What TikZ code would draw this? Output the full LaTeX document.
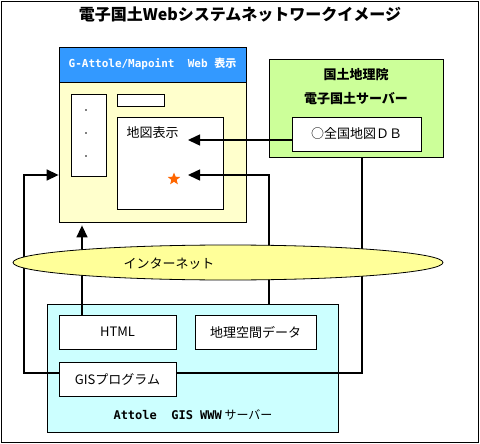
\documentclass[tikz,border=0pt]{standalone}
\usepackage{fontspec}
\setmainfont{Noto Sans CJK JP}
\setmonofont{DejaVu Sans Mono}
\newfontfamily\jpfont{Noto Sans CJK JP}
\usepackage{tikz}
\usetikzlibrary{arrows.meta,shapes.geometric}
\definecolor{headerblue}{RGB}{51,153,255}
\definecolor{windowcream}{RGB}{255,255,204}
\definecolor{gsigreen}{RGB}{204,255,153}
\definecolor{servercyan}{RGB}{204,255,255}
\definecolor{netyellow}{RGB}{255,255,153}
\definecolor{starorange}{RGB}{255,102,0}

\begin{document}
\begin{tikzpicture}[
    x=1pt, y=-1pt,
    >={Triangle[length=12pt, width=11pt]},
    panel/.style={draw, line width=0.8pt, fill=#1, inner sep=0pt},
    itembox/.style={draw, line width=0.8pt, fill=white, inner sep=0pt,
        minimum height=34pt, font=\fontsize{13}{15}\selectfont},
    hdrlbl/.style={font=\fontsize{11}{13}\selectfont\ttfamily\bfseries, text=white},
    boldlbl/.style={font=\fontsize{13}{24}\selectfont\bfseries, align=center},
    plainlbl/.style={font=\fontsize{13}{15}\selectfont},
    arrw/.style={->, line width=1.5pt},
    link/.style={line width=1.5pt},
]
\useasboundingbox (0,0) rectangle (480,444);
\draw[line width=0.8pt] (1,1) rectangle (478,442);

% === TITLE ===
\node[font=\fontsize{16}{18}\selectfont\bfseries] (title) at (240,15)
    {電子国土Webシステムネットワークイメージ};

% === WEB VIEWER (top left) ===
\node[panel=windowcream, minimum width=187pt, minimum height=175pt] (webwin) at (152.5,134.5) {};
\node[panel=headerblue, minimum width=187pt, minimum height=35pt] (hdr) at (152.5,64.5) {};
\node[hdrlbl] (hdrtxt) at (152.5,64) {G-Attole/Mapoint\ \ Web {\jpfont 表示}};
\node[panel=white, minimum width=35pt, minimum height=82pt] (menubar) at (88.5,135) {};
\foreach \i/\y in {1/110, 2/133, 3/156}
    \node[circle, fill=black, inner sep=0pt, minimum size=1.6pt] (dot\i) at (86,\y) {};
\node[panel=white, minimum width=47pt, minimum height=12pt] (toolbar) at (140.5,100) {};
\node[panel=white, minimum width=106pt, minimum height=92pt] (mapview) at (170,163) {};
\node[plainlbl, anchor=west] (maptxt) at (123,133) {地図表示};
\node[star, star points=5, star point ratio=2.3, fill=starorange,
    minimum size=13pt, inner sep=0pt] (star) at (174,179) {};

% === GSI SERVER (top right) ===
\node[panel=gsigreen, minimum width=174pt, minimum height=98pt] (gsi) at (356,108) {};
\node[boldlbl] (gsitxt) at (356,87) {国土地理院\\電子国土サーバー};
\node[itembox, minimum width=129pt] (db) at (356.5,134) {○全国地図ＤＢ};

% === ATTOLE SERVER (bottom) ===
\node[panel=servercyan, minimum width=291pt, minimum height=128pt] (server) at (192.5,368) {};
\node[itembox, minimum width=117pt] (html) at (117.5,332) {HTML};
\node[itembox, minimum width=121pt] (geodata) at (255.5,332) {地理空間データ};
\node[itembox, minimum width=117pt] (gisprog) at (117.5,379) {GISプログラム};
\node[font=\fontsize{12}{14}\selectfont] (srvtxt) at (193,415)
    {{\ttfamily\bfseries Attole\ \ GIS WWW} サーバー};

% === CONNECTORS ===
\coordinate (mapin) at (188,140);
\coordinate (starin) at (188,175);
\coordinate (leftbus) at (24,175);
\coordinate (htmlup) at (82,0);
\coordinate (srvup) at (269,0);
\coordinate (gsidown) at (362,0);

\draw[arrw] (db.west |- mapin) -- (mapin);
\draw[arrw] (server.north -| srvup) |- (starin);
\draw[arrw] ([yshift=6pt]gisprog.west) -| (leftbus) -- (webwin.west |- leftbus);
\draw[arrw, shorten >=3pt] (html.north -| htmlup) -- (webwin.south -| htmlup);
\draw[link] ([yshift=6pt]gisprog.east) -| (gsi.south -| gsidown);

% === INTERNET ===
\node[ellipse, draw, line width=0.8pt, fill=netyellow, minimum width=430pt,
    minimum height=35pt] (net) at (228,262.5) {};
\node[plainlbl] (nettxt) at (169,264) {インターネット};

\end{tikzpicture}
\end{document}
